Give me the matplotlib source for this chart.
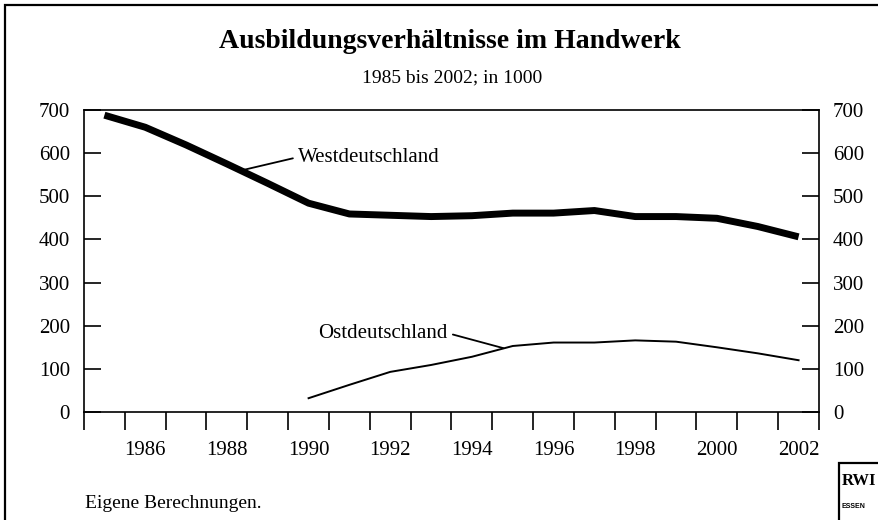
import numpy as np
import matplotlib.pyplot as plt
from matplotlib.patches import Rectangle
from matplotlib.ticker import FixedLocator, NullFormatter

plt.rcParams['font.family'] = ['Liberation Serif', 'DejaVu Serif']

years_west = list(range(1985, 2003))
west = [688, 660, 619, 575, 530, 484, 459, 456, 453, 455, 461, 461, 467, 453, 453, 449, 430, 406]
years_east = list(range(1990, 2003))
east = [32, 63, 93, 109, 128, 153, 161, 161, 166, 163, 150, 136, 120]
label_years = [1986, 1988, 1990, 1992, 1994, 1996, 1998, 2000, 2002]
yticks = [0, 100, 200, 300, 400, 500, 600, 700]

fig = plt.figure(figsize=(8.79, 5.20), dpi=100)
ax = fig.add_axes([84 / 879, 1 - 412 / 520, (819 - 84) / 879, (412 - 110) / 520])

ax.plot(years_west, west, color='black', lw=5, solid_capstyle='butt')
ax.plot(years_east, east, color='black', lw=1.4)

ax.set_xlim(1984.5, 2002.5)
ax.set_ylim(0, 700)

# y axis: inward ticks on both sides
ax.set_yticks(yticks)
ax.tick_params(axis='y', direction='in', length=12, width=1.2, labelsize=15,
               left=True, right=True, labelleft=True, labelright=True, pad=10)

# x axis: ticks between categories, labels centred on categories
ax.xaxis.set_major_locator(FixedLocator(np.arange(1984.5, 2003, 1.0)))
ax.xaxis.set_major_formatter(NullFormatter())
ax.xaxis.set_minor_locator(FixedLocator(label_years))
ax.set_xticklabels([str(y) for y in label_years], minor=True)
ax.tick_params(axis='x', which='major', direction='out', length=13, width=1.2)
ax.tick_params(axis='x', which='minor', length=0, labelsize=15, pad=21)

for s in ax.spines.values():
    s.set_linewidth(1.2)

ax.annotate('Westdeutschland', xy=(1988.4, 561), xytext=(1989.75, 591),
            fontsize=15, ha='left', va='center',
            arrowprops=dict(arrowstyle='-', color='black', lw=1.3,
                            relpos=(0, 0.5), shrinkA=2, shrinkB=0))
ax.annotate('Ostdeutschland', xy=(1994.77, 148), xytext=(1993.4, 183),
            fontsize=15, ha='right', va='center',
            arrowprops=dict(arrowstyle='-', color='black', lw=1.3,
                            relpos=(1, 0.5), shrinkA=2, shrinkB=0))

fig.text(450 / 879, 1 - 42 / 520, 'Ausbildungsverhältnisse im Handwerk',
         ha='center', va='center', fontsize=20, fontweight='bold')
fig.text(452 / 879, 1 - 78 / 520, '1985 bis 2002; in 1000',
         ha='center', va='center', fontsize=14)
fig.text(85 / 879, 1 - 503 / 520, 'Eigene Berechnungen.',
         ha='left', va='center', fontsize=14)

# outer frame (cut off at right and bottom)
fig.patches.append(Rectangle((5 / 879, -0.1), 1.2, 1.1 - 5 / 520, transform=fig.transFigure,
                             fill=False, lw=1.6, edgecolor='black', clip_on=False))

# logo
fig.patches.append(Rectangle((839 / 879, -0.1), 0.2, 0.1 + 1 - 463 / 520,
                             transform=fig.transFigure, fill=False, lw=1.6,
                             edgecolor='black', clip_on=False))
fig.text(842 / 879, 1 - 481 / 520, 'RWI', ha='left', va='center',
         fontsize=12, fontweight='bold')
fig.text(842 / 879, 1 - 507 / 520, 'ESSEN', ha='left', va='center',
         fontsize=5, fontweight='bold', family='Liberation Sans')

fig.savefig('out.png', dpi=100)
